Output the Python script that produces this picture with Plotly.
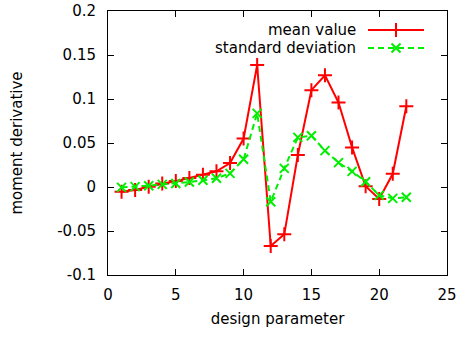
import plotly.graph_objects as go

design_parameter = list(range(1, 23))
mean_value = [-0.0053, -0.0034, 0.0004, 0.0040, 0.0068, 0.0102, 0.0140, 0.0178, 0.0273, 0.0550,
              0.1386, -0.0670, -0.0538, 0.0364, 0.1100, 0.1270, 0.0960, 0.0450, 0.0008, -0.0136,
              0.0150, 0.0917]
std_dev = [-0.0004, 0.0004, 0.0015, 0.0030, 0.0040, 0.0057, 0.0076, 0.0099, 0.0155, 0.0315,
           0.0837, -0.0167, 0.0212, 0.0564, 0.0583, 0.0413, 0.0277, 0.0178, 0.0060, -0.0095,
           -0.0129, -0.0117]
series_names = ["mean value", "standard deviation"]
x_ticks = [0, 5, 10, 15, 20, 25]
y_ticks = [-0.1, -0.05, 0, 0.05, 0.1, 0.15, 0.2]
y_tick_text = ["-0.1", "-0.05", "0", "0.05", "0.1", "0.15", "0.2"]

RED = "#ff0000"
GREEN = "#00ee00"
FONT = "DejaVu Sans"
FS = 15

W, H = 460, 339
L, R, T, B = 108, 13, 11, 64

fig = go.Figure()
fig.add_trace(go.Scatter(
    x=design_parameter, y=mean_value, mode="lines+markers", name=series_names[0],
    line=dict(color=RED, width=2),
    marker=dict(symbol="cross-thin", size=10, color=RED, line=dict(color=RED, width=2)),
    showlegend=False))
fig.add_trace(go.Scatter(
    x=design_parameter, y=std_dev, mode="lines+markers", name=series_names[1],
    line=dict(color=GREEN, width=2, dash="6px,4px"),
    marker=dict(symbol="x-thin", size=9, color=GREEN, line=dict(color=GREEN, width=2)),
    showlegend=False))

# custom gnuplot-style legend (text left of sample) on pixel-based overlay axes
leg_x0, leg_x1, leg_text_x = 368, 424, 358
leg_rows = [30, 48]
styles = [
    (RED, "solid", "cross-thin", 10),
    (GREEN, "6px,4px", "x-thin", 9),
]
for name, yy, (col, dash, sym, sz) in zip(series_names, leg_rows, styles):
    fig.add_trace(go.Scatter(
        x=[leg_x0, leg_x1], y=[yy, yy], mode="lines", xaxis="x2", yaxis="y2",
        line=dict(color=col, width=2, dash=dash), showlegend=False, hoverinfo="skip"))
    fig.add_trace(go.Scatter(
        x=[(leg_x0 + leg_x1) / 2], y=[yy], mode="markers", xaxis="x2", yaxis="y2",
        marker=dict(symbol=sym, size=sz, color=col, line=dict(color=col, width=2)),
        showlegend=False, hoverinfo="skip"))
    fig.add_annotation(x=leg_text_x, y=yy, xref="x2", yref="y2", text=name,
                       showarrow=False, xanchor="right", yanchor="middle",
                       font=dict(family=FONT, size=FS, color="black"))

axis_common = dict(
    showline=True, linecolor="black", linewidth=1, mirror="allticks",
    ticks="inside", ticklen=6, tickcolor="black", tickwidth=1,
    showgrid=False, zeroline=False, automargin=False,
    tickfont=dict(family=FONT, size=FS, color="black"),
)

fig.update_layout(
    width=W, height=H,
    margin=dict(l=L, r=R, t=T, b=B, autoexpand=False),
    paper_bgcolor="white", plot_bgcolor="white",
    font=dict(family=FONT, size=FS, color="black"),
    xaxis=dict(range=[0, 25], tickvals=x_ticks, ticktext=[str(v) for v in x_ticks],
               title=dict(text="design parameter", standoff=10, font=dict(family=FONT, size=FS)),
               ticklabelstandoff=6, **axis_common),
    yaxis=dict(range=[-0.1, 0.2], tickvals=y_ticks, ticktext=y_tick_text,
               title=dict(text="moment derivative", standoff=30, font=dict(family=FONT, size=FS)),
               ticklabelstandoff=8, **axis_common),
    xaxis2=dict(range=[L, W - R], overlaying="x", visible=False, fixedrange=True, automargin=False),
    yaxis2=dict(range=[H - B, T], overlaying="y", visible=False, fixedrange=True, automargin=False),
    showlegend=False,
)

fig.write_html("out.html")
